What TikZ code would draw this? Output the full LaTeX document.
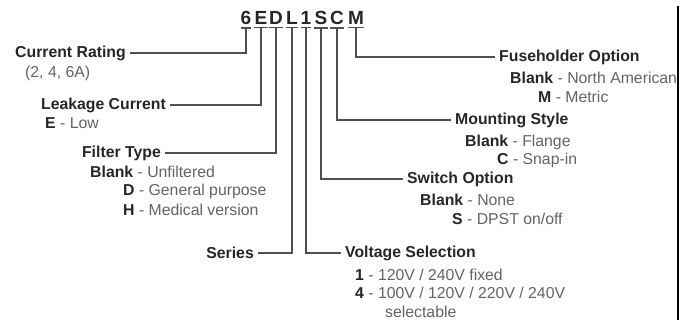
\documentclass[tikz,border=0pt]{standalone}
\usepackage{fontspec}
\setmainfont{Liberation Sans}
\definecolor{ink}{HTML}{262626}
\definecolor{note}{HTML}{646464}
\definecolor{leadc}{HTML}{505050}
\newcommand{\keyc}[1]{\textbf{\color{ink}#1}}
\tikzset{
  code/.style={font=\fontsize{19}{19}\selectfont\bfseries, text=ink, inner xsep=0pt, inner ysep=2.5pt, anchor=base},
  title/.style={font=\fontsize{15.8}{19}\selectfont\bfseries, text=ink, inner sep=4pt},
  desc/.style={font=\fontsize{15.8}{19}\selectfont, text=note, inner sep=0pt, anchor=west},
  lead/.style={draw=leadc, line width=1.4pt},
}
\begin{document}
\begin{tikzpicture}[x=1pt,y=-1pt]
      \useasboundingbox (0,0) rectangle (691,320);
      % part number
      \draw
        (246,25) node[code] (c6){6}
        (261,25) node[code] (cE){E}
        (276,25) node[code] (cD){D}
        (292,25) node[code] (cL){L}
        (306,25) node[code] (c1){1}
        (321,25) node[code] (cS){S}
        (337,25) node[code] (cC){C}
        (356,25) node[code] (cM){M};
      % left side
      \draw
        (130,53) node[title,anchor=east] (cur){Current Rating}
        (170,105) node[title,anchor=east] (leak){Leakage Current}
        (165,153) node[title,anchor=east] (filt){Filter Type}
        (258,253) node[title,anchor=east] (ser){Series};
      \node[desc] (cur1) at (25,73) {(2, 4, 6A)};
      \node[desc] (leak1) at (45,123) {\keyc{E} - Low};
      \node[desc] (filt1) at (90,172) {\keyc{Blank} - Unfiltered};
      \node[desc] (filt2) at (123,191) {\keyc{D} - General purpose};
      \node[desc] (filt3) at (123,210) {\keyc{H} - Medical version};
      % right side
      \draw
        (495,57) node[title,anchor=west] (fuse){Fuseholder Option}
        (451,120) node[title,anchor=west] (mnt){Mounting Style}
        (403,179) node[title,anchor=west] (sw){Switch Option}
        (341,253) node[title,anchor=west] (volt){Voltage Selection};
      \node[desc] (fuse1) at (510,78) {\keyc{Blank} - North American};
      \node[desc] (fuse2) at (538,97) {\keyc{M} - Metric};
      \node[desc] (mnt1) at (465,142) {\keyc{Blank} - Flange};
      \node[desc] (mnt2) at (497,160) {\keyc{C} - Snap-in};
      \node[desc] (sw1) at (420,200) {\keyc{Blank} - None};
      \node[desc] (sw2) at (452,219) {\keyc{S} - DPST on/off};
      \node[desc] (volt1) at (355,275) {\keyc{1} - 120V / 240V fixed};
      \node[desc] (volt2) at (355,293) {\keyc{4} - 100V / 120V / 220V / 240V};
      \node[desc] (volt3) at (385,312) {selectable};
      \begin{scope}[lead]
        \draw (c6.south west) -- (c6.south east);
        \draw (cE.south west) -- (cE.south east);
        \draw (cD.south west) -- (cD.south east);
        \draw (cL.south west) -- (cL.south east);
        \draw (c1.south west) -- (c1.south east);
        \draw (cS.south west) -- (cS.south east);
        \draw (cC.south west) -- (cC.south east);
        \draw (cM.south west) -- (cM.south east);
        \draw (c6.south) |- (cur.east);
        \draw (cE.south) |- (leak.east);
        \draw (cD.south) |- (filt.east);
        \draw (cL.south) |- (ser.east);
        \draw (c1.south) |- (volt.west);
        \draw (cS.south) |- (sw.west);
        \draw (cC.south) |- (mnt.west);
        \draw (cM.south) |- (fuse.west);
      \end{scope}
      % frame edge
      \draw[line width=2pt] (678,6) -- (678,320);
    \end{tikzpicture}
\end{document}
